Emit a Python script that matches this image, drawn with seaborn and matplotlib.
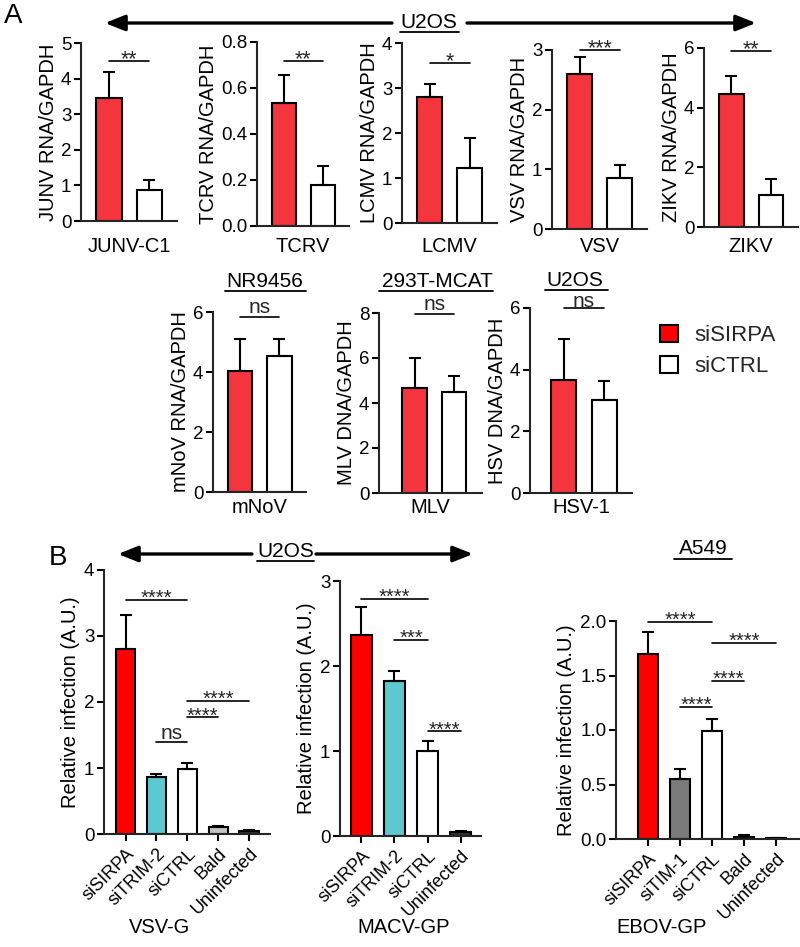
import numpy as np
import pandas as pd
import matplotlib
matplotlib.use("Agg")
import matplotlib.pyplot as plt
import matplotlib.transforms as mtransforms
import seaborn as sns
from matplotlib.patches import Patch

sns.set_theme(style="ticks")
plt.rcParams['font.family'] = ['Liberation Sans', 'DejaVu Sans']
plt.rcParams['axes.linewidth'] = 1.5

# ---- Panel A, top row (U2OS) ----
a_viruses = ["JUNV-C1", "TCRV", "LCMV", "VSV", "ZIKV"]
a_ylabels = ["JUNV RNA/GAPDH", "TCRV RNA/GAPDH", "LCMV RNA/GAPDH",
             "VSV RNA/GAPDH", "ZIKV RNA/GAPDH"]
a_sirpa = [3.45, 0.535, 2.8, 2.6, 4.45]
a_sirpa_err = [0.73, 0.12, 0.3, 0.28, 0.6]
a_ctrl = [0.88, 0.18, 1.22, 0.85, 1.07]
a_ctrl_err = [0.27, 0.08, 0.68, 0.22, 0.53]
a_yticks = [[0, 1, 2, 3, 4, 5], [0.0, 0.2, 0.4, 0.6, 0.8], [0, 1, 2, 3, 4],
            [0, 1, 2, 3], [0, 2, 4, 6]]
a_sig = ["**", "**", "*", "***", "**"]
a_sig_y = [4.5, 0.717, 3.56, 3.0, 5.9]

# ---- Panel A, middle row ----
m_viruses = ["mNoV", "MLV", "HSV-1"]
m_cells = ["NR9456", "293T-MCAT", "U2OS"]
m_ylabels = ["mNoV RNA/GAPDH", "MLV DNA/GAPDH", "HSV DNA/GAPDH"]
m_sirpa = [4.05, 4.65, 3.65]
m_sirpa_err = [1.05, 1.35, 1.35]
m_ctrl = [4.55, 4.5, 3.0]
m_ctrl_err = [0.55, 0.7, 0.62]
m_yticks = [[0, 2, 4, 6], [0, 2, 4, 6, 8], [0, 2, 4, 6]]
m_sig_y = [5.83, 7.96, 6.0]

conds_a = ["siSIRPA", "siCTRL"]

# ---- Panel B ----
b_vsv_conds = ["siSIRPA", "siTRIM-2", "siCTRL", "Bald", "Uninfected"]
b_vsv_vals = [2.8, 0.87, 0.98, 0.10, 0.04]
b_vsv_err = [0.52, 0.04, 0.10, 0.02, 0.02]

b_macv_conds = ["siSIRPA", "siTRIM-2", "siCTRL", "Uninfected"]
b_macv_vals = [2.36, 1.82, 1.0, 0.05]
b_macv_err = [0.34, 0.12, 0.12, 0.01]

b_ebov_conds = ["siSIRPA", "siTIM-1", "siCTRL", "Bald", "Uninfected"]
b_ebov_vals = [1.70, 0.55, 0.99, 0.02, 0.005]
b_ebov_err = [0.20, 0.09, 0.11, 0.02, 0.005]

W, H = 800, 947
RED_A = "#f4353d"
RED_B = "#ff0000"
TEAL = "#5ec8cf"
TICK_FS = 13.5
LAB_FS = 14.5

fig = plt.figure(figsize=(W / 100, H / 100), dpi=100)

ov = fig.add_axes([0, 0, 1, 1])
ov.set_xlim(0, W)
ov.set_ylim(H, 0)
ov.axis('off')


def px_axes(left, right, top, bottom):
    return fig.add_axes([left / W, 1 - bottom / H, (right - left) / W, (bottom - top) / H])


def place_xlabel(ax, text, top_px, size=LAB_FS, x_px=None):
    # put the x label with its top at a fixed pixel row of the figure
    ax.set_xlabel(text, fontsize=size, color='black')
    if x_px is None:
        tr = mtransforms.blended_transform_factory(ax.transAxes, fig.transFigure)
        ax.xaxis.set_label_coords(0.5, 1 - top_px / H, transform=tr)
    else:
        ax.xaxis.set_label_coords(x_px / W, 1 - top_px / H, transform=fig.transFigure)


def draw_bars(ax, cats, vals, errs, colors, width=0.62):
    df = pd.DataFrame({'cond': cats, 'val': vals})
    sns.barplot(data=df, x='cond', y='val', hue='cond', palette=dict(zip(cats, colors)),
                width=width, edgecolor='black', linewidth=1.5, errorbar=None, saturation=1,
                legend=False, dodge=False, ax=ax)
    ax.errorbar(np.arange(len(cats)), vals, yerr=[np.zeros(len(vals)), errs], fmt='none',
                ecolor='black', elinewidth=1.5, capsize=4.5, capthick=1.5)
    sns.despine(ax=ax)
    ax.tick_params(axis='y', length=5, width=1.5, labelsize=TICK_FS, pad=2, colors='black')


def sig(ax, x0, x1, y, text, size=14, off=-3):
    ax.plot([x0, x1], [y, y], color='black', lw=1.2, clip_on=False)
    ax.annotate(text, xy=((x0 + x1) / 2, y), xytext=(0, off), textcoords='offset points',
                ha='center', va='baseline', fontsize=size, annotation_clip=False)


def ns(ax, x0, x1, y, off=2.5):
    ax.plot([x0, x1], [y, y], color='black', lw=1.2, clip_on=False)
    ax.annotate("ns", xy=((x0 + x1) / 2, y), xytext=(0, off), textcoords='offset points',
                ha='center', va='baseline', fontsize=15, annotation_clip=False)


def fmt_ticks(ticks):
    if any(isinstance(t, float) and t != int(t) for t in ticks):
        return [f"{t:.1f}" for t in ticks]
    return [str(t) for t in ticks]


# top row boxes: left, right, top, bottom (pixels)
a_boxes = [(81, 177, 43, 221), (257, 349, 42, 226), (402, 497, 43, 223),
           (552, 647, 50, 229), (704, 798, 48, 227)]
for i in range(5):
    ax = px_axes(*a_boxes[i])
    draw_bars(ax, conds_a, [a_sirpa[i], a_ctrl[i]], [a_sirpa_err[i], a_ctrl_err[i]],
              [RED_A, "white"])
    ax.set_xlim(-0.69, 1.68)
    ax.set_ylim(0, a_yticks[i][-1])
    ax.set_yticks(a_yticks[i])
    ax.set_yticklabels(fmt_ticks(a_yticks[i]))
    ax.set_xticks([])
    place_xlabel(ax, a_viruses[i], 237)
    ax.set_ylabel(a_ylabels[i], fontsize=LAB_FS, labelpad=2, color='black')
    sig(ax, 0, 1, a_sig_y[i], a_sig[i], size=15.5)

m_boxes = [(213, 306, 312, 492), (379, 482, 313, 493), (530, 632, 308, 493)]
m_xlims = [(-0.68, 1.67), (-0.9, 1.71), (-0.83, 1.69)]
m_ns_off = [3, 3, 0.5]
for i in range(3):
    ax = px_axes(*m_boxes[i])
    draw_bars(ax, conds_a, [m_sirpa[i], m_ctrl[i]], [m_sirpa_err[i], m_ctrl_err[i]],
              [RED_A, "white"])
    ax.set_xlim(*m_xlims[i])
    ax.set_ylim(0, m_yticks[i][-1])
    ax.set_yticks(m_yticks[i])
    ax.set_xticks([])
    place_xlabel(ax, m_viruses[i], 498)
    ax.set_ylabel(m_ylabels[i], fontsize=LAB_FS, labelpad=2, color='black')
    ns(ax, 0, 1, m_sig_y[i], off=m_ns_off[i])

fig.legend(handles=[Patch(facecolor=RED_B, edgecolor='black', lw=1.5, label='siSIRPA'),
                    Patch(facecolor='white', edgecolor='black', lw=1.5, label='siCTRL')],
           loc='upper left', bbox_to_anchor=(640 / W, 1 - 305 / H), frameon=False,
           fontsize=16, handlelength=0.8, handleheight=0.8, handletextpad=0.75,
           labelspacing=0.45)

# ---- Panel B axes ----
b_specs = [
    (b_vsv_conds, b_vsv_vals, b_vsv_err, [RED_B, TEAL, "white", "#c4c4c4", "#333333"],
     (104, 270, 570, 834), (-0.70, 4.68), [0, 1, 2, 3, 4], "VSV-G", 160,
     [(0, 2, 3.55, "****"), (1, 2, 1.39, "ns"), (2, 3, 1.77, "****"), (2, 4, 2.02, "****")]),
    (b_macv_conds, b_macv_vals, b_macv_err, [RED_B, TEAL, "white", "#333333"],
     (340, 481, 581, 836), (-0.65, 3.62), [0, 1, 2, 3], "MACV-GP", 404,
     [(0, 2, 2.79, "****"), (1, 2, 2.31, "***"), (2, 3, 1.23, "****")]),
    (b_ebov_conds, b_ebov_vals, b_ebov_err, [RED_B, "#7a7a7a", "white", "#c4c4c4", "#333333"],
     (616, 809, 621, 839), (-1.0, 5.03), [0.0, 0.5, 1.0, 1.5, 2.0], "EBOV-GP", 662,
     [(0, 2, 1.99, "****"), (2, 4, 1.80, "****"), (2, 3, 1.45, "****"), (1, 2, 1.21, "****")]),
]
for conds, vals, errs, cols, box, xl, yt, xlabel, xlab_x, sigs in b_specs:
    ax = px_axes(*box)
    draw_bars(ax, conds, vals, errs, cols, width=0.62)
    ax.set_xlim(*xl)
    ax.set_ylim(0, yt[-1])
    ax.set_yticks(yt)
    ax.set_yticklabels(fmt_ticks(yt))
    ax.set_xticks(range(len(conds)))
    ax.set_xticklabels(conds, rotation=45, ha='right', rotation_mode='anchor')
    ax.tick_params(axis='x', length=5, width=1.5, labelsize=13, pad=3, colors='black')
    place_xlabel(ax, xlabel, 918, size=14.5, x_px=xlab_x)
    ax.set_ylabel("Relative infection (A.U.)", fontsize=14.5, labelpad=3, color='black')
    for x0, x1, y, t in sigs:
        if t == "ns":
            ns(ax, x0, x1, y)
        else:
            sig(ax, x0, x1, y, t, size=14.5)

# ---- arrows, cell-line titles, panel letters ----
arrow = dict(arrowstyle='-|>,head_length=1.0,head_width=0.4', lw=2.4, color='black',
             mutation_scale=12, shrinkA=0, shrinkB=0)
ov.annotate('', xy=(105, 23), xytext=(392, 23), arrowprops=arrow)
ov.annotate('', xy=(756, 23), xytext=(467, 23), arrowprops=arrow)
ov.annotate('', xy=(118, 554), xytext=(252, 554), arrowprops=arrow)
ov.annotate('', xy=(473, 554), xytext=(316, 554), arrowprops=arrow)


def utext(x, y, s, x0, x1, yl):
    ov.text(x, y, s, ha='center', va='baseline', fontsize=15, color='black')
    ov.plot([x0, x1], [yl, yl], color='black', lw=1.3)


utext(429, 28, "U2OS", 400, 459, 32)
utext(265, 287, "NR9456", 225, 306, 291)
utext(437, 287, "293T-MCAT", 379, 493, 291)
utext(575, 286, "U2OS", 545, 608, 290)
utext(286, 557, "U2OS", 257, 314, 561)
utext(703, 554, "A549", 674, 732, 559)

ov.text(4, 16, "A", fontsize=20, va='center', ha='left', color='black')
ov.text(49, 558, "B", fontsize=20, va='center', ha='left', color='black')

fig.savefig("out.png", dpi=100)
